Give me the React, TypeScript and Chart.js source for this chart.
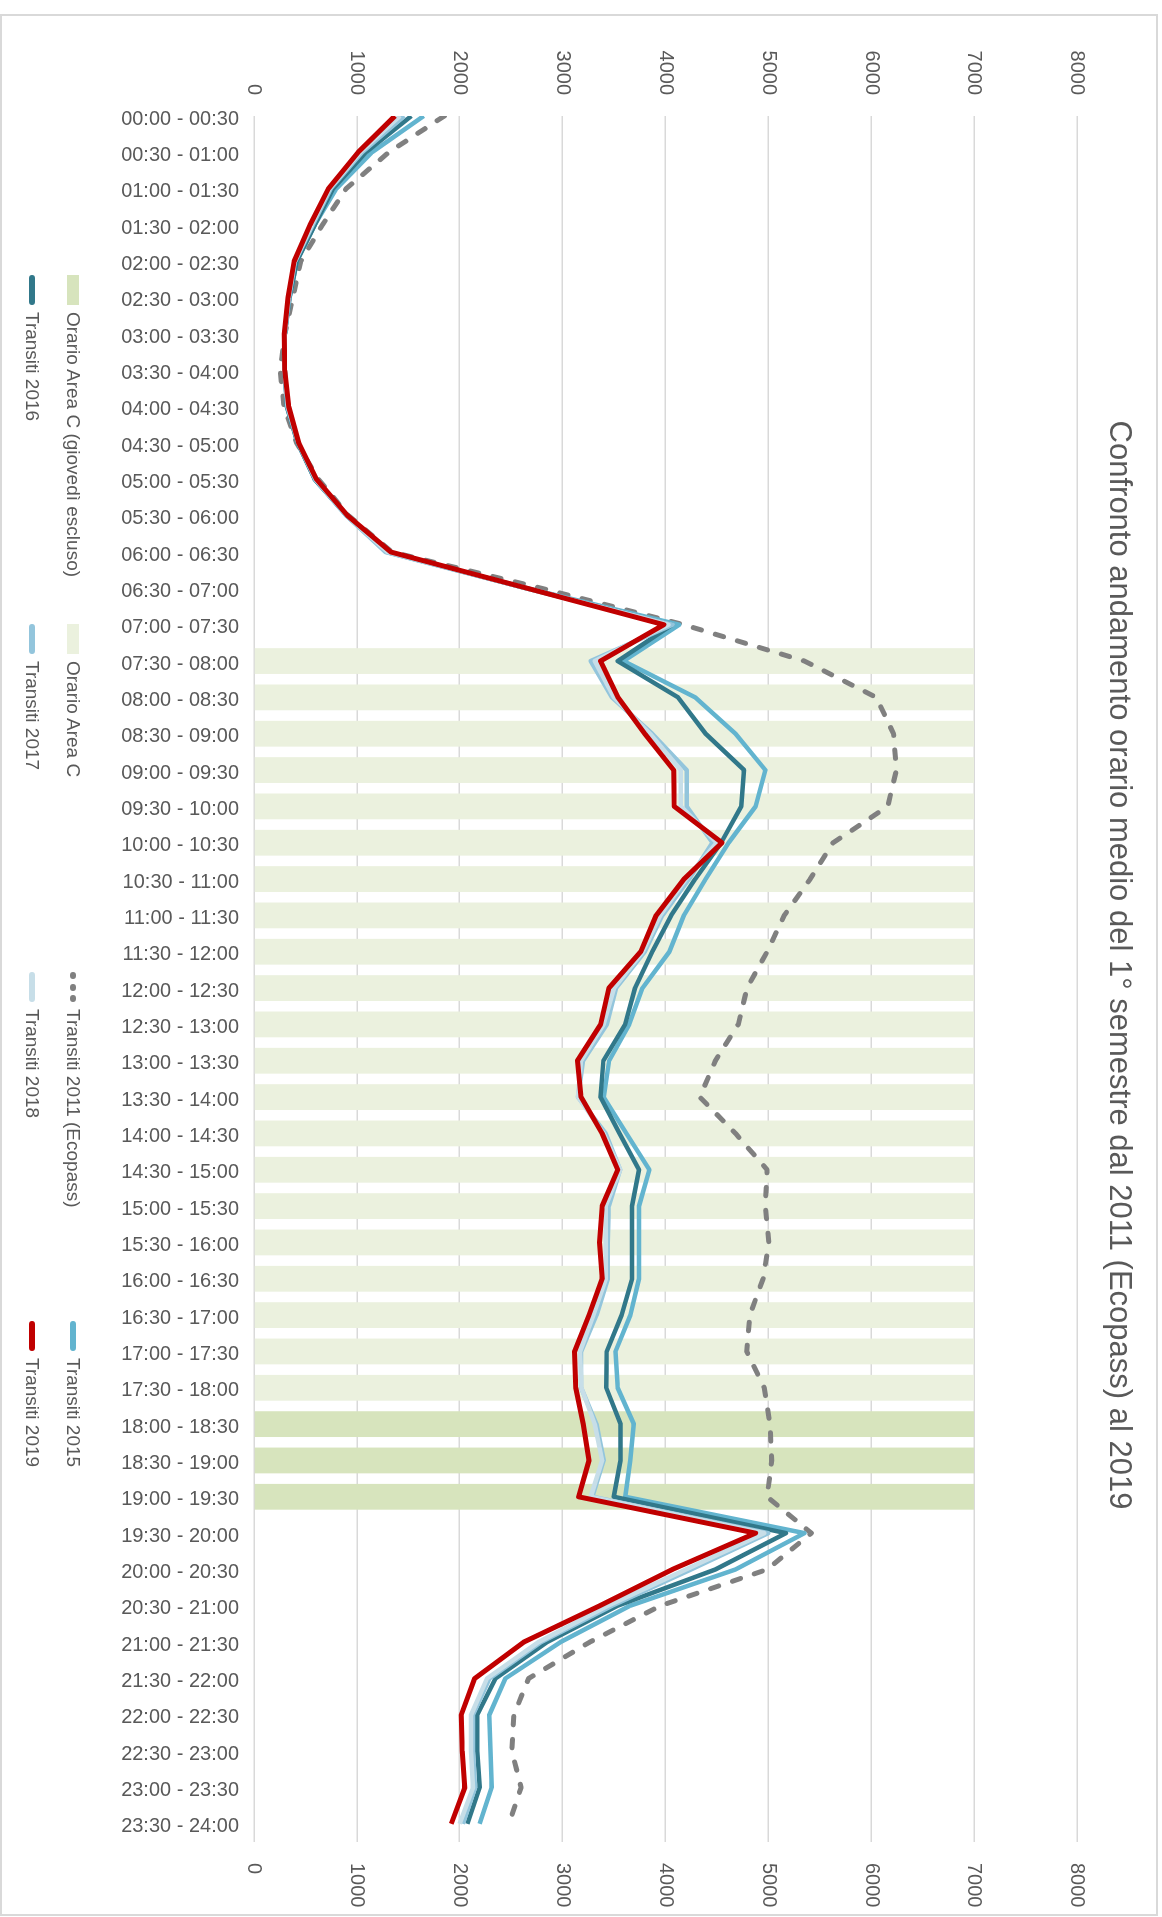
import { useEffect, useRef } from 'react';
import { Chart, registerables } from 'chart.js';

Chart.register(...registerables);

const FONT = '"Liberation Sans", Arial, sans-serif';
const TEXT = '#595959';

const title = 'Confronto andamento orario medio del 1° semestre dal 2011 (Ecopass) al 2019';

const categories = [
  '00:00 - 00:30', '00:30 - 01:00', '01:00 - 01:30', '01:30 - 02:00', '02:00 - 02:30', '02:30 - 03:00',
  '03:00 - 03:30', '03:30 - 04:00', '04:00 - 04:30', '04:30 - 05:00', '05:00 - 05:30', '05:30 - 06:00',
  '06:00 - 06:30', '06:30 - 07:00', '07:00 - 07:30', '07:30 - 08:00', '08:00 - 08:30', '08:30 - 09:00',
  '09:00 - 09:30', '09:30 - 10:00', '10:00 - 10:30', '10:30 - 11:00', '11:00 - 11:30', '11:30 - 12:00',
  '12:00 - 12:30', '12:30 - 13:00', '13:00 - 13:30', '13:30 - 14:00', '14:00 - 14:30', '14:30 - 15:00',
  '15:00 - 15:30', '15:30 - 16:00', '16:00 - 16:30', '16:30 - 17:00', '17:00 - 17:30', '17:30 - 18:00',
  '18:00 - 18:30', '18:30 - 19:00', '19:00 - 19:30', '19:30 - 20:00', '20:00 - 20:30', '20:30 - 21:00',
  '21:00 - 21:30', '21:30 - 22:00', '22:00 - 22:30', '22:30 - 23:00', '23:00 - 23:30', '23:30 - 24:00',
];

const valueTicks = [0, 1000, 2000, 3000, 4000, 5000, 6000, 7000, 8000];

const N = null;
const areaCThursdayExcluded = [
  N, N, N, N, N, N, N, N, N, N, N, N, N, N, N, N, N, N, N, N, N, N, N, N,
  N, N, N, N, N, N, N, N, N, N, N, N, 7000, 7000, 7000, N, N, N, N, N, N, N, N, N,
];
const areaC = [
  N, N, N, N, N, N, N, N, N, N, N, N, N, N, N, 7000, 7000, 7000, 7000, 7000, 7000, 7000, 7000, 7000,
  7000, 7000, 7000, 7000, 7000, 7000, 7000, 7000, 7000, 7000, 7000, 7000, N, N, N, N, N, N, N, N, N, N, N, N,
];

const transiti2011 = [
  1850, 1310, 896, 665, 454, 377, 300, 254, 292, 415, 627, 920,
  1340, 2800, 4179, 5352, 6050, 6218, 6246, 6162, 5631, 5408, 5156, 4989,
  4793, 4709, 4486, 4335, 4682, 4989, 4972, 5006, 4950, 4821, 4790, 4961,
  5017, 5034, 4989, 5419, 4989, 3950, 3264, 2670, 2527, 2507, 2597, 2480,
];
const transiti2015 = [
  1650, 1146, 800, 590, 415, 346, 300, 300, 320, 425, 590, 900,
  1290, 2660, 4134, 3592, 4290, 4682, 4972, 4877, 4615, 4391, 4179, 4039,
  3777, 3648, 3453, 3400, 3620, 3844, 3743, 3743, 3743, 3659, 3515, 3536,
  3693, 3659, 3609, 5352, 4682, 3655, 2979, 2444, 2288, 2300, 2311, 2194,
];
const transiti2016 = [
  1530, 1088, 769, 590, 415, 346, 300, 300, 320, 425, 590, 905,
  1300, 2650, 4067, 3536, 4123, 4391, 4765, 4737, 4542, 4290, 4056, 3872,
  3704, 3609, 3397, 3369, 3553, 3743, 3676, 3676, 3676, 3575, 3430, 3425,
  3564, 3564, 3497, 5173, 4486, 3535, 2848, 2348, 2170, 2170, 2194, 2075,
];
const transiti2017 = [
  1460, 1050, 745, 570, 400, 340, 298, 300, 325, 430, 595, 900,
  1280, 2650, 4070, 3274, 3480, 3871, 4207, 4207, 4458, 4230, 3970, 3800,
  3520, 3430, 3200, 3150, 3420, 3560, 3450, 3440, 3440, 3330, 3180, 3180,
  3330, 3400, 3290, 5000, 4250, 3480, 2790, 2290, 2130, 2130, 2150, 2030,
];
const transiti2018 = [
  1420, 1030, 735, 560, 395, 335, 296, 300, 330, 432, 600, 905,
  1300, 2655, 4030, 3313, 3500, 3850, 4150, 4150, 4500, 4200, 3950, 3780,
  3500, 3400, 3180, 3150, 3400, 3560, 3420, 3420, 3420, 3300, 3170, 3184,
  3313, 3385, 3274, 4961, 4200, 3440, 2765, 2265, 2111, 2110, 2130, 2000,
];
const transiti2019 = [
  1370, 1012, 723, 545, 390, 331, 295, 300, 338, 435, 608, 910,
  1330, 2660, 3985, 3370, 3540, 3800, 4080, 4085, 4550, 4180, 3910, 3760,
  3450, 3370, 3145, 3180, 3385, 3536, 3385, 3360, 3385, 3257, 3117, 3128,
  3201, 3257, 3156, 4877, 4067, 3360, 2622, 2146, 2015, 2025, 2050, 1918,
];

const COLORS = {
  areaCThu: '#D7E4BD',
  areaC: '#EBF1DE',
  y2011: '#808080',
  y2015: '#62B4CF',
  y2016: '#31788A',
  y2017: '#93C5DC',
  y2018: '#C7DEE8',
  y2019: '#C00000',
};

type LegendItem = { label: string; color: string; kind: 'box' | 'line' | 'dash' };
const legendRow1: LegendItem[] = [
  { label: 'Orario Area C (giovedì escluso)', color: COLORS.areaCThu, kind: 'box' },
  { label: 'Orario Area C', color: COLORS.areaC, kind: 'box' },
  { label: 'Transiti 2011 (Ecopass)', color: COLORS.y2011, kind: 'dash' },
  { label: 'Transiti 2015', color: COLORS.y2015, kind: 'line' },
];
const legendRow2: LegendItem[] = [
  { label: 'Transiti 2016', color: COLORS.y2016, kind: 'line' },
  { label: 'Transiti 2017', color: COLORS.y2017, kind: 'line' },
  { label: 'Transiti 2018', color: COLORS.y2018, kind: 'line' },
  { label: 'Transiti 2019', color: COLORS.y2019, kind: 'line' },
];

// geometry of the (unrotated) chart box
const BOX_W = 1902;
const BOX_H = 1158;
const SYM = 30;

function Symbol({ item }: { item: LegendItem }) {
  if (item.kind === 'box') {
    return <div style={{ width: SYM, height: 12, background: item.color, flex: 'none' }} />;
  }
  if (item.kind === 'dash') {
    return (
      <div style={{ width: SYM, height: 6, display: 'flex', justifyContent: 'space-between', flex: 'none' }}>
        {[0, 1, 2].map((k) => (
          <div key={k} style={{ width: 7, height: 6, borderRadius: 3, background: item.color }} />
        ))}
      </div>
    );
  }
  return <div style={{ width: SYM, height: 6, borderRadius: 3, background: item.color, flex: 'none' }} />;
}

function LegendRow({ items, centerY }: { items: LegendItem[]; centerY: number }) {
  const starts = [261, 610, 958, 1307];
  return (
    <>
      {items.map((it, k) => (
        <div
          key={it.label}
          style={{
            position: 'absolute',
            left: starts[k],
            top: centerY - 15,
            height: 30,
            display: 'flex',
            alignItems: 'center',
            whiteSpace: 'nowrap',
            fontFamily: FONT,
            fontSize: 19,
            color: TEXT,
          }}
        >
          <Symbol item={it} />
          <span style={{ marginLeft: 7 }}>{it.label}</span>
        </div>
      ))}
    </>
  );
}

export default function App() {
  const ref = useRef<HTMLCanvasElement | null>(null);

  useEffect(() => {
    if (!ref.current) return;
    const toPoints = (arr: (number | null)[]) =>
      arr.map((v, i) => ({ x: i, y: v })).filter((p) => p.y !== null);

    const lineDs = (label: string, data: number[], color: string, width: number, order: number, dash?: number[]) => ({
      type: 'line' as const,
      label,
      data: toPoints(data),
      borderColor: color,
      backgroundColor: color,
      borderWidth: width,
      borderDash: dash || [],
      borderCapStyle: dash ? ('round' as const) : ('butt' as const),
      borderJoinStyle: 'round' as const,
      pointRadius: 0,
      tension: 0,
      fill: false,
      order,
    });

    const tickFont = { family: FONT, size: 20 };

    const chart = new Chart(ref.current, {
      type: 'bar',
      data: {
        datasets: [
          {
            type: 'bar',
            label: 'Orario Area C (giovedì escluso)',
            data: toPoints(areaCThursdayExcluded),
            backgroundColor: COLORS.areaCThu,
            borderWidth: 0,
            grouped: false,
            categoryPercentage: 1,
            barPercentage: 0.71,
            order: 20,
          } as any,
          {
            type: 'bar',
            label: 'Orario Area C',
            data: toPoints(areaC),
            backgroundColor: COLORS.areaC,
            borderWidth: 0,
            grouped: false,
            categoryPercentage: 1,
            barPercentage: 0.71,
            order: 19,
          } as any,
          lineDs('Transiti 2011 (Ecopass)', transiti2011, COLORS.y2011, 5, 7, [8.5, 14.5]),
          lineDs('Transiti 2015', transiti2015, COLORS.y2015, 4.5, 6),
          lineDs('Transiti 2016', transiti2016, COLORS.y2016, 4.5, 5),
          lineDs('Transiti 2017', transiti2017, COLORS.y2017, 4.5, 4),
          lineDs('Transiti 2018', transiti2018, COLORS.y2018, 4.5, 3),
          lineDs('Transiti 2019', transiti2019, COLORS.y2019, 5, 2),
        ] as any,
      },
      options: {
        responsive: false,
        animation: false,
        devicePixelRatio: 1,
        layout: { padding: 0 },
        plugins: {
          legend: { display: false },
          tooltip: { enabled: false },
          title: {
            display: true,
            text: title,
            color: TEXT,
            font: { family: FONT, size: 31, weight: 'normal' },
            padding: { top: 21, bottom: 23 },
          },
        },
        scales: {
          x: {
            type: 'linear',
            offset: false,
            min: 0,
            max: 47.5,
            grid: { display: false, drawTicks: false, offset: false },
            border: { display: false },
            afterBuildTicks: (s: any) => {
              s.ticks = categories.map((_, i) => ({ value: i }));
            },
            afterFit: (s: any) => {
              s.height = 254;
            },
            ticks: {
              autoSkip: false,
              maxRotation: 90,
              minRotation: 90,
              padding: 15,
              labelOffset: 3,
              color: TEXT,
              font: tickFont,
              callback: (v: any) => categories[v] ?? '',
            },
          },
          y: {
            position: 'left',
            min: 0,
            max: 8000,
            afterBuildTicks: (s: any) => {
              s.ticks = valueTicks.map((v) => ({ value: v }));
            },
            afterFit: (s: any) => {
              s.width = 102;
            },
            grid: { color: '#D9D9D9', lineWidth: 1.5, drawTicks: false },
            border: { display: false },
            ticks: { padding: 21, color: TEXT, font: tickFont, callback: (v: any) => String(v) },
          },
          y2: {
            position: 'right',
            min: 0,
            max: 8000,
            afterBuildTicks: (s: any) => {
              s.ticks = valueTicks.map((v) => ({ value: v }));
            },
            afterFit: (s: any) => {
              s.width = 74;
            },
            grid: { drawOnChartArea: false, drawTicks: false },
            border: { display: false },
            ticks: { padding: 21, color: TEXT, font: tickFont, callback: (v: any) => String(v) },
          },
        },
      } as any,
    });
    return () => chart.destroy();
  }, []);

  return (
    <div style={{ position: 'absolute', left: 0, top: 14, width: BOX_H, height: BOX_W, overflow: 'hidden' }}>
      <div
        style={{
          position: 'absolute',
          left: 0,
          top: 0,
          width: BOX_W,
          height: BOX_H,
          transformOrigin: '0 0',
          transform: `translateX(${BOX_H}px) rotate(90deg)`,
          background: '#ffffff',
        }}
      >
        <canvas ref={ref} width={BOX_W} height={BOX_H} style={{ position: 'absolute', left: 0, top: 0, width: BOX_W, height: BOX_H }} />
        <LegendRow items={legendRow1} centerY={1085} />
        <LegendRow items={legendRow2} centerY={1126} />
        <div
          style={{
            position: 'absolute',
            left: 0,
            top: 0,
            width: BOX_W,
            height: BOX_H,
            border: '2px solid #D9D9D9',
            boxSizing: 'border-box',
            pointerEvents: 'none',
          }}
        />
      </div>
    </div>
  );
}
